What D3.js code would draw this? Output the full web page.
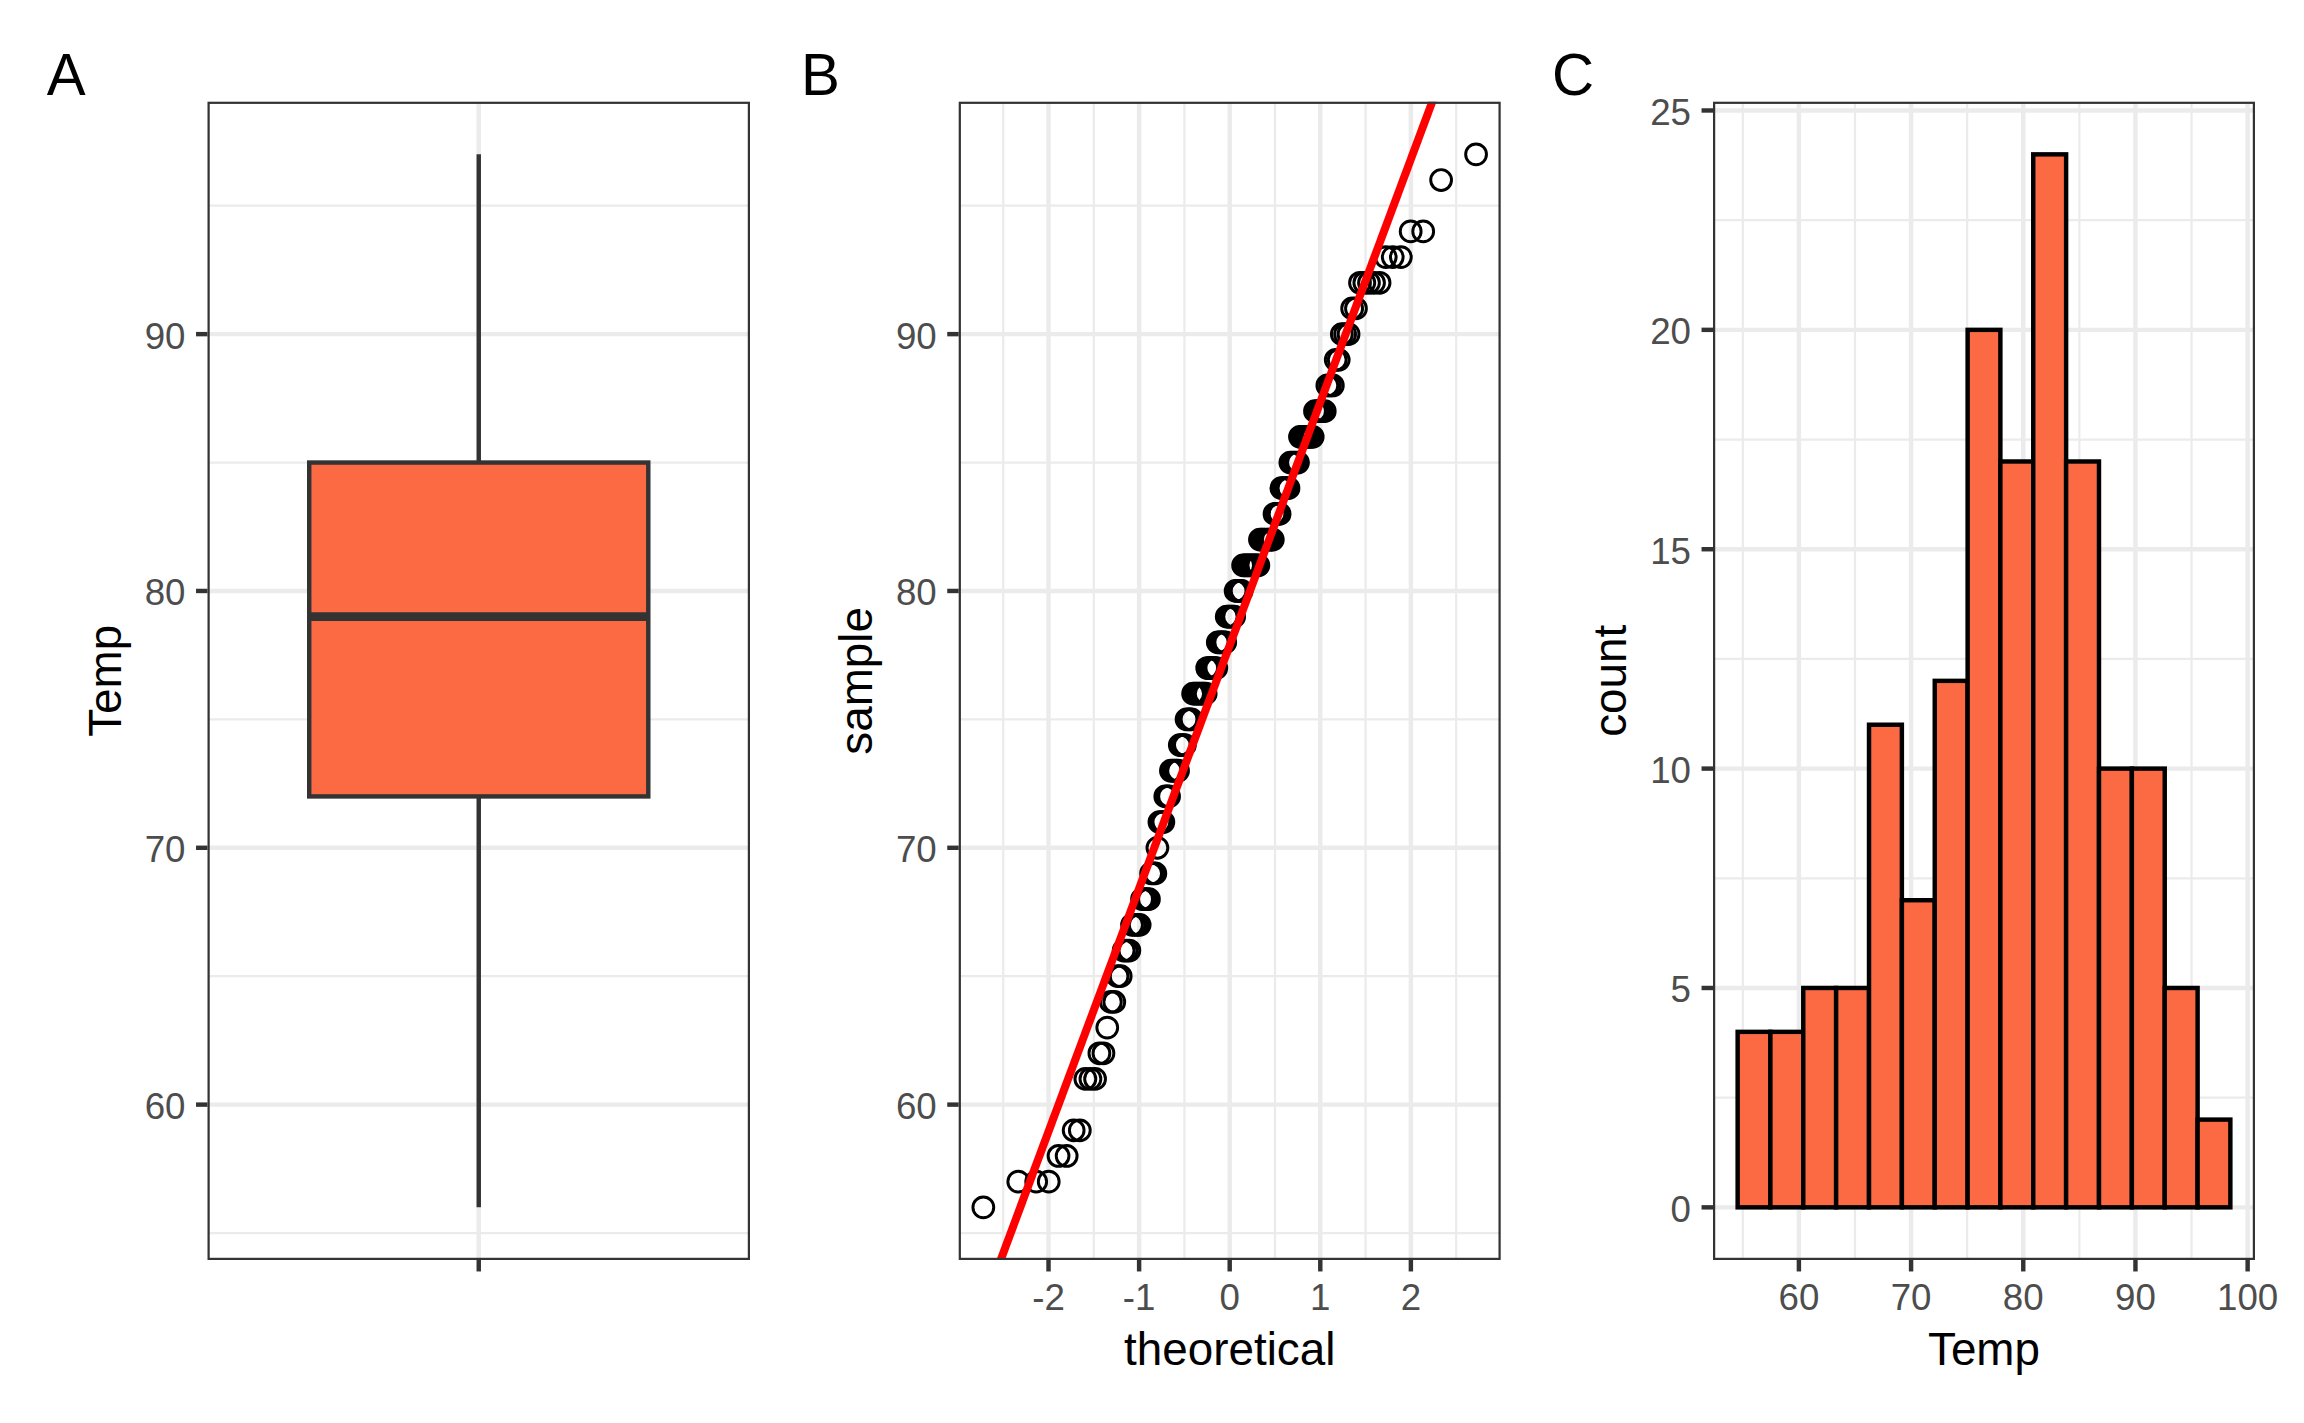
<!DOCTYPE html>
<html>
<head>
<meta charset="utf-8">
<script src="https://cdn.jsdelivr.net/npm/d3@7"></script>
<style>
  html, body { margin: 0; padding: 0; background: #ffffff; }
  svg { display: block; }
</style>
</head>
<body>
<div id="chart"></div>
<script>
// ---------------- DATA ----------------
// Daily maximum temperatures (°F), 153 observations
const tempValues = [67,72,74,62,56,66,65,59,61,69,74,69,66,68,58,64,66,57,68,62,59,73,61,61,57,58,57,67,81,79,
  76,78,74,67,84,85,79,82,87,90,87,93,92,82,80,79,77,72,65,73,76,77,76,76,76,75,78,73,80,77,
  83,84,85,81,84,83,83,88,92,92,89,82,73,81,91,80,81,82,84,87,85,74,81,82,86,85,82,86,88,86,
  83,81,81,81,82,86,85,87,89,90,90,92,86,86,82,80,79,77,79,76,78,78,77,72,75,79,81,86,88,97,
  94,96,94,91,92,93,93,87,84,80,78,75,73,81,76,77,71,71,78,67,76,68,82,64,71,81,69,63,70,77,
  75,76,68];

// Box plot five-number summary (min, Q1, median, Q3, max)
const boxStats = [56, 72, 79, 85, 97];
const boxCategory = [""];

// Histogram bins (15 bins) and counts
const histEdges = [54.54, 57.46, 60.39, 63.32, 66.25, 69.18, 72.11, 75.04, 77.96, 80.89, 83.82, 86.75, 89.68, 92.61, 95.54, 98.46];
const histCounts = [4, 4, 5, 5, 11, 7, 12, 20, 17, 24, 17, 10, 10, 5, 2];

// Tick labels
const tempTicks = [60, 70, 80, 90];
const tempMinorTicks = [55, 65, 75, 85, 95];
const theoTicks = [-2, -1, 0, 1, 2];
const theoMinorTicks = [-2.5, -1.5, -0.5, 0.5, 1.5, 2.5];
const histXTicks = [60, 70, 80, 90, 100];
const histXMinorTicks = [55, 65, 75, 85, 95];
const countTicks = [0, 5, 10, 15, 20, 25];
const countMinorTicks = [2.5, 7.5, 12.5, 17.5, 22.5];

const panelLabels = ["A", "B", "C"];

// ---------------- HELPERS ----------------
function qnorm(p) {
  const a=[-3.969683028665376e+01,2.209460984245205e+02,-2.759285104469687e+02,1.383577518672690e+02,-3.066479806614716e+01,2.506628277459239e+00];
  const b=[-5.447609879822406e+01,1.615858368580409e+02,-1.556989798598866e+02,6.680131188771972e+01,-1.328068155288572e+01];
  const c=[-7.784894002430293e-03,-3.223964580411365e-01,-2.400758277161838e+00,-2.549732539343734e+00,4.374664141464968e+00,2.938163982698783e+00];
  const d=[7.784695709041462e-03,3.224671290700398e-01,2.445134137142996e+00,3.754408661907416e+00];
  const pl=0.02425, ph=1-pl;
  if (p < pl) { const q=Math.sqrt(-2*Math.log(p)); return (((((c[0]*q+c[1])*q+c[2])*q+c[3])*q+c[4])*q+c[5])/((((d[0]*q+d[1])*q+d[2])*q+d[3])*q+1); }
  if (p <= ph) { const q=p-0.5, r=q*q; return (((((a[0]*r+a[1])*r+a[2])*r+a[3])*r+a[4])*r+a[5])*q/(((((b[0]*r+b[1])*r+b[2])*r+b[3])*r+b[4])*r+1); }
  const q=Math.sqrt(-2*Math.log(1-p)); return -(((((c[0]*q+c[1])*q+c[2])*q+c[3])*q+c[4])*q+c[5])/((((d[0]*q+d[1])*q+d[2])*q+d[3])*q+1);
}
function expand(ext, f) { const r = ext[1]-ext[0]; return [ext[0]-r*f, ext[1]+r*f]; }

// ---------------- LAYOUT / STYLE ----------------
const W = 2304, H = 1423;
const FONT = "'Liberation Sans', Arial, Helvetica, sans-serif";
const FILL = "#FC6A43";
const GRID = "#EBEBEB";
const DARK = "#333333";
const TICKTXT = "#4D4D4D";
const LW = 4.44;            // 0.5 linewidth @300dpi
const TICKLEN = 11.46;
const TICKFS = 36.7, TITLEFS = 45.8, TAGFS = 58.3;

const panelTop = 101.7, panelBottom = 1260;
const panels = [
  {x0: 207.5, x1: 750},
  {x0: 958.7, x1: 1500.7},
  {x0: 1713,  x1: 2255}
];
const tagX = [46.7, 801, 1552];
const tagY = 95;

const svg = d3.select("#chart").append("svg")
  .attr("width", W).attr("height", H)
  .attr("viewBox", `0 0 ${W} ${H}`);
svg.append("rect").attr("width", W).attr("height", H).attr("fill", "#ffffff");

const defs = svg.append("defs");
panels.forEach((p, i) => {
  p.i = i;
  defs.append("clipPath").attr("id", "clip" + i)
    .append("rect").attr("x", p.x0).attr("y", panelTop)
    .attr("width", p.x1 - p.x0).attr("height", panelBottom - panelTop);
});

// generic panel furniture
function drawGrid(g, p, xs, ys, xMajor, xMinor, yMajor, yMinor) {
  g.append("rect").attr("x", p.x0).attr("y", panelTop)
    .attr("width", p.x1 - p.x0).attr("height", panelBottom - panelTop).attr("fill", "#fff");
  const gg = g.append("g").attr("clip-path", `url(#clip${p.i})`);
  gg.selectAll(".ymin").data(yMinor).enter().append("line")
    .attr("x1", p.x0).attr("x2", p.x1).attr("y1", d => ys(d)).attr("y2", d => ys(d))
    .attr("stroke", GRID).attr("stroke-width", LW/2);
  gg.selectAll(".xmin").data(xMinor).enter().append("line")
    .attr("y1", panelTop).attr("y2", panelBottom).attr("x1", d => xs(d)).attr("x2", d => xs(d))
    .attr("stroke", GRID).attr("stroke-width", LW/2);
  gg.selectAll(".ymaj").data(yMajor).enter().append("line")
    .attr("x1", p.x0).attr("x2", p.x1).attr("y1", d => ys(d)).attr("y2", d => ys(d))
    .attr("stroke", GRID).attr("stroke-width", LW);
  gg.selectAll(".xmaj").data(xMajor).enter().append("line")
    .attr("y1", panelTop).attr("y2", panelBottom).attr("x1", d => xs(d)).attr("x2", d => xs(d))
    .attr("stroke", GRID).attr("stroke-width", LW);
}
function drawFrame(g, p, xs, ys, xMajor, xLabels, yMajor, yLabels, xTitle, yTitle) {
  g.append("rect").attr("x", p.x0 + LW/4).attr("y", panelTop + LW/4)
    .attr("width", p.x1 - p.x0 - LW/2).attr("height", panelBottom - panelTop - LW/2)
    .attr("fill", "none").attr("stroke", DARK).attr("stroke-width", LW/2);
  g.selectAll(".yt").data(yMajor).enter().append("line")
    .attr("x1", p.x0 - TICKLEN).attr("x2", p.x0).attr("y1", d => ys(d)).attr("y2", d => ys(d))
    .attr("stroke", DARK).attr("stroke-width", LW);
  g.selectAll(".ytl").data(yMajor).enter().append("text")
    .attr("x", p.x0 - 22).attr("y", d => ys(d) + 14.5)
    .attr("text-anchor", "end").attr("font-family", FONT).attr("font-size", TICKFS)
    .attr("fill", TICKTXT).text((d, i) => yLabels[i]);
  g.selectAll(".xt").data(xMajor).enter().append("line")
    .attr("y1", panelBottom).attr("y2", panelBottom + TICKLEN).attr("x1", d => xs(d)).attr("x2", d => xs(d))
    .attr("stroke", DARK).attr("stroke-width", LW);
  g.selectAll(".xtl").data(xMajor).enter().append("text")
    .attr("x", d => xs(d)).attr("y", 1310)
    .attr("text-anchor", "middle").attr("font-family", FONT).attr("font-size", TICKFS)
    .attr("fill", TICKTXT).text((d, i) => xLabels[i]);
  if (xTitle) {
    g.append("text").attr("x", (p.x0 + p.x1) / 2).attr("y", 1365)
      .attr("text-anchor", "middle").attr("font-family", FONT).attr("font-size", TITLEFS)
      .attr("fill", "#000").text(xTitle);
  }
  if (yTitle) {
    const cy = (panelTop + panelBottom) / 2, bx = p.x0 - 87;
    g.append("text").attr("transform", `translate(${bx},${cy}) rotate(-90)`)
      .attr("text-anchor", "middle").attr("font-family", FONT).attr("font-size", TITLEFS)
      .attr("fill", "#000").text(yTitle);
  }
}

// shared temp y scale (panels A and B)
const yTemp = d3.scaleLinear().domain(expand(d3.extent(tempValues), 0.05)).range([panelBottom, panelTop]);

// ---------------- PANEL A: BOXPLOT ----------------
{
  const p = panels[0];
  const g = svg.append("g");
  const xA = d3.scalePoint().domain(boxCategory).range([p.x0, p.x1]).padding(0.5);
  const unit = (p.x1 - p.x0) / 1.2;
  drawGrid(g, p, xA, yTemp, boxCategory, [], tempTicks, tempMinorTicks);
  const cx = xA(boxCategory[0]);
  const bw = 0.75 * unit;
  const [mn, q1, med, q3, mx] = boxStats;
  const gb = g.append("g").attr("clip-path", "url(#clip0)");
  gb.append("line").attr("x1", cx).attr("x2", cx).attr("y1", yTemp(q3)).attr("y2", yTemp(mx))
    .attr("stroke", DARK).attr("stroke-width", LW);
  gb.append("line").attr("x1", cx).attr("x2", cx).attr("y1", yTemp(q1)).attr("y2", yTemp(mn))
    .attr("stroke", DARK).attr("stroke-width", LW);
  gb.append("rect").attr("x", cx - bw/2).attr("width", bw)
    .attr("y", yTemp(q3)).attr("height", yTemp(q1) - yTemp(q3))
    .attr("fill", FILL).attr("stroke", DARK).attr("stroke-width", LW);
  gb.append("line").attr("x1", cx - bw/2).attr("x2", cx + bw/2).attr("y1", yTemp(med)).attr("y2", yTemp(med))
    .attr("stroke", DARK).attr("stroke-width", LW*2);
  drawFrame(g, p, xA, yTemp, boxCategory, boxCategory, tempTicks, tempTicks.map(String), null, "Temp");
}

// ---------------- PANEL B: QQ PLOT ----------------
{
  const p = panels[1];
  const g = svg.append("g");
  const sorted = tempValues.slice().sort((a, b) => a - b);
  const n = sorted.length;
  const qq = sorted.map((v, i) => ({x: qnorm((i + 1 - 0.5) / n), y: v}));
  const xB = d3.scaleLinear().domain(expand(d3.extent(qq, d => d.x), 0.05)).range([p.x0, p.x1]);
  drawGrid(g, p, xB, yTemp, theoTicks, theoMinorTicks, tempTicks, tempMinorTicks);
  const gd = g.append("g").attr("clip-path", "url(#clip1)");
  gd.selectAll("circle").data(qq).enter().append("circle")
    .attr("cx", d => xB(d.x)).attr("cy", d => yTemp(d.y)).attr("r", 10.4)
    .attr("fill", "none").attr("stroke", "#000").attr("stroke-width", 2.95);
  // reference line: intercept = mean, slope = standard deviation
  const icpt = d3.mean(tempValues);
  const slope = d3.deviation(tempValues);
  const xr = xB.domain();
  gd.append("line")
    .attr("x1", xB(xr[0])).attr("y1", yTemp(icpt + slope * xr[0]))
    .attr("x2", xB(xr[1])).attr("y2", yTemp(icpt + slope * xr[1]))
    .attr("stroke", "#FF0000").attr("stroke-width", 8);
  drawFrame(g, p, xB, yTemp, theoTicks, theoTicks.map(String), tempTicks, tempTicks.map(String), "theoretical", "sample");
}

// ---------------- PANEL C: HISTOGRAM ----------------
{
  const p = panels[2];
  const g = svg.append("g");
  const xC = d3.scaleLinear().domain(expand([histEdges[0], histEdges[histEdges.length - 1]], 0.05)).range([p.x0, p.x1]);
  const yC = d3.scaleLinear().domain(expand([0, d3.max(histCounts)], 0.05)).range([panelBottom, panelTop]);
  drawGrid(g, p, xC, yC, histXTicks, histXMinorTicks, countTicks, countMinorTicks);
  const bins = histCounts.map((c, i) => ({x0: histEdges[i], x1: histEdges[i + 1], c}));
  const gd = g.append("g").attr("clip-path", "url(#clip2)");
  gd.selectAll("rect.bar").data(bins).enter().append("rect").attr("class", "bar")
    .attr("x", d => xC(d.x0)).attr("width", d => xC(d.x1) - xC(d.x0))
    .attr("y", d => yC(d.c)).attr("height", d => yC(0) - yC(d.c))
    .attr("fill", FILL).attr("stroke", "#000").attr("stroke-width", LW);
  drawFrame(g, p, xC, yC, histXTicks, histXTicks.map(String), countTicks, countTicks.map(String), "Temp", "count");
}

// ---------------- PANEL TAGS ----------------
svg.selectAll("text.tag").data(panelLabels).enter().append("text").attr("class", "tag")
  .attr("x", (d, i) => tagX[i]).attr("y", tagY)
  .attr("font-family", FONT).attr("font-size", TAGFS).attr("fill", "#000")
  .text(d => d);
</script>
</body>
</html>
